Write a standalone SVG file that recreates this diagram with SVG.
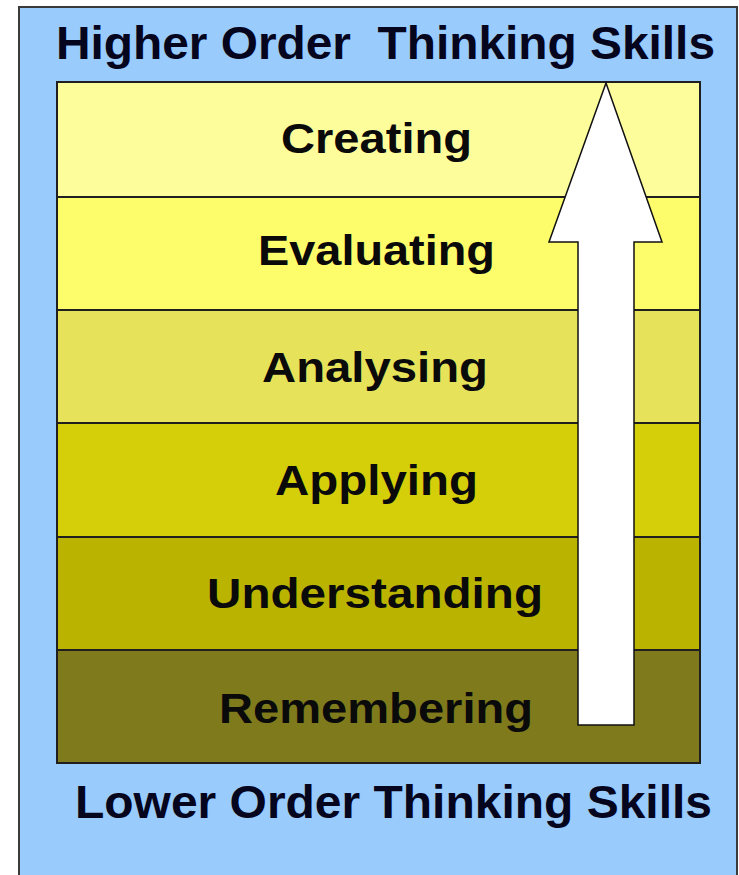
<svg xmlns="http://www.w3.org/2000/svg" width="739" height="875" viewBox="0 0 739 875">
<style>
.band{stroke:#1f1f1f;stroke-width:2}
.lbl{font-family:"Liberation Sans",Arial,sans-serif;font-weight:bold;font-size:43px;fill:#0a0a0a}
.ttl{font-family:"Liberation Sans",Arial,sans-serif;font-weight:bold;font-size:46px;fill:#05051e}
</style>
<rect width="739" height="875" fill="#ffffff"/>
<g id="panel">
<rect x="19" y="7" width="718" height="880" fill="#99cbfc" stroke="#3a3a3a" stroke-width="2"/>
</g>
<g id="title-top"><text class="ttl" x="56" y="59" textLength="659" lengthAdjust="spacingAndGlyphs" xml:space="preserve">Higher Order  Thinking Skills</text></g>
<g id="creating"><rect class="band" x="57" y="82" width="643" height="115" fill="#fdfd9c"/><text class="lbl" x="281" y="153" textLength="191" lengthAdjust="spacingAndGlyphs">Creating</text></g>
<g id="evaluating"><rect class="band" x="57" y="197" width="643" height="113" fill="#fdfc6a"/><text class="lbl" x="258" y="265" textLength="237" lengthAdjust="spacingAndGlyphs">Evaluating</text></g>
<g id="analysing"><rect class="band" x="57" y="310" width="643" height="113" fill="#e6e35a"/><text class="lbl" x="262" y="382" textLength="226" lengthAdjust="spacingAndGlyphs">Analysing</text></g>
<g id="applying"><rect class="band" x="57" y="423" width="643" height="114" fill="#d5cf0a"/><text class="lbl" x="275" y="495" textLength="203" lengthAdjust="spacingAndGlyphs">Applying</text></g>
<g id="understanding"><rect class="band" x="57" y="537" width="643" height="113" fill="#bab400"/><text class="lbl" x="207" y="608" textLength="336" lengthAdjust="spacingAndGlyphs">Understanding</text></g>
<g id="remembering"><rect class="band" x="57" y="650" width="643" height="113" fill="#7f7b1c"/><text class="lbl" x="219" y="723" textLength="314" lengthAdjust="spacingAndGlyphs">Remembering</text></g>
<g id="connectors">
<polygon points="606,83 662,242 634,242 634,725 578,725 578,242 549,242" fill="#ffffff" stroke="#111" stroke-width="1.5" stroke-linejoin="miter"/>
</g>
<g id="title-bottom"><text class="ttl" x="75" y="818" textLength="637" lengthAdjust="spacingAndGlyphs">Lower Order Thinking Skills</text></g>
</svg>
